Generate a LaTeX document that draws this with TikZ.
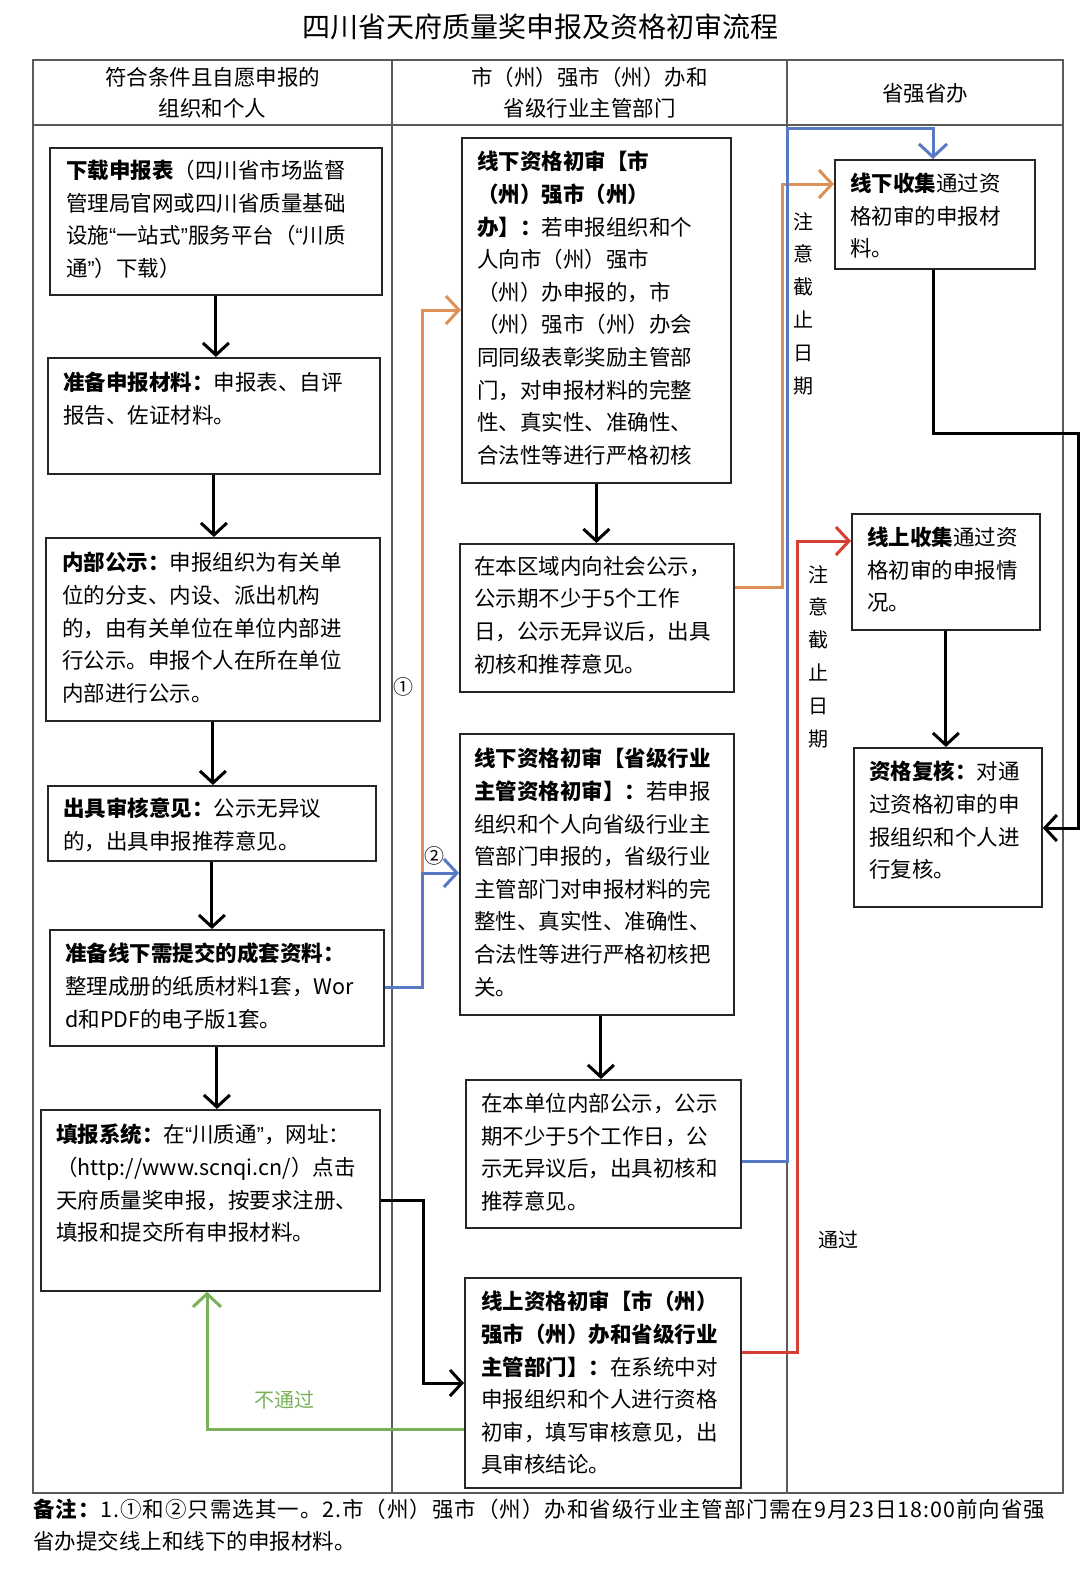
\documentclass[tikz,border=0pt]{standalone}
\usepackage{fontspec}
\setmainfont{Noto Sans CJK SC}
\newfontfamily\qf{Liberation Sans}
\usetikzlibrary{arrows.meta}
\definecolor{cor}{RGB}{222,145,86}
\definecolor{cbl}{RGB}{88,122,196}
\definecolor{cre}{RGB}{214,64,52}
\definecolor{cgr}{RGB}{122,176,88}
\definecolor{ctb}{RGB}{90,90,90}
\newcommand\myLq{{\qf “}}
\newcommand\myRq{{\qf ”}}
\begin{document}
\begin{tikzpicture}[x=1pt,y=-1pt,
  box/.style={draw=black!85, line width=1.8pt, rectangle, inner sep=0pt, anchor=north west},
  txt/.style={anchor=north west, inner sep=0pt, align=left, font=\fontsize{21.5pt}{32.6pt}\selectfont},
  hdr/.style={inner sep=0pt, align=center, font=\fontsize{21.5pt}{31pt}\selectfont},
  lbl/.style={inner sep=0pt, align=center, font=\fontsize{20pt}{32.8pt}\selectfont},
  arr/.style={draw=black, line width=3pt, -{Straight Barb[length=12pt,width=26pt]}},
  orarr/.style={draw=cor, line width=3pt, -{Straight Barb[length=13pt,width=28pt]}},
  blarr/.style={draw=cbl, line width=3pt, -{Straight Barb[length=13pt,width=28pt]}},
  rearr/.style={draw=cre, line width=3pt, -{Straight Barb[length=13pt,width=28pt]}},
  grarr/.style={draw=cgr, line width=3pt, -{Straight Barb[length=13pt,width=28pt]}},
  tbl/.style={draw=ctb, line width=1.3pt}
]
\useasboundingbox (0,0) rectangle (1080,1569);
\fill[white] (0,0) rectangle (1080,1569);

% title
\node[inner sep=0pt, font=\fontsize{28pt}{30pt}\selectfont] (title) at (540,27) {四川省天府质量奖申报及资格初审流程};

% table
\draw[tbl] (33,60) rectangle (1063,1493);
\draw[tbl] (33,125) -- (1063,125);
\draw[tbl] (392,60) -- (392,1493);
\draw[tbl] (787,60) -- (787,1493);
\node[hdr] (h1) at (212.5,92.5) {符合条件且自愿申报的\\组织和个人};
\node[hdr] (h2) at (589.5,92.5) {市（州）强市（州）办和\\省级行业主管部门};
\node[hdr] (h3) at (925,93) {省强省办};

% left column boxes
\node[box, minimum width=332, minimum height=147] (b1) at (49,147) {};
\node[box, minimum width=332, minimum height=116] (b2) at (47,357) {};
\node[box, minimum width=334, minimum height=183] (b3) at (45,537) {};
\node[box, minimum width=328, minimum height=75] (b4) at (47,785) {};
\node[box, minimum width=334, minimum height=116] (b5) at (49,929) {};
\node[box, minimum width=339, minimum height=181] (b6) at (40,1109) {};

\node[txt] (t1) at (66,160) {\textbf{下载申报表}（四川省市场监督\\管理局官网或四川省质量基础\\设施\myLq 一站式\myRq 服务平台（\myLq 川质\\通\myRq ）下载）};
\node[txt] (t2) at (63,372) {\textbf{准备申报材料：}申报表、自评\\报告、佐证材料。};
\node[txt] (t3) at (62,552) {\textbf{内部公示：}申报组织为有关单\\位的分支、内设、派出机构\\的，由有关单位在单位内部进\\行公示。申报个人在所在单位\\内部进行公示。};
\node[txt] (t4) at (63,798) {\textbf{出具审核意见：}公示无异议\\的，出具申报推荐意见。};
\node[txt] (t5) at (65,943) {\textbf{准备线下需提交的成套资料：}\\整理成册的纸质材料1套，Wor\\d和PDF的电子版1套。};
\node[txt] (t6) at (56,1124) {\textbf{填报系统：}在\myLq 川质通\myRq ，网址：\\（http://www.scnqi.cn/）点击\\天府质量奖申报，按要求注册、\\填报和提交所有申报材料。};

% middle column boxes
\node[box, minimum width=269, minimum height=345] (A) at (461,137) {};
\node[box, minimum width=274, minimum height=148] (B) at (459,543) {};
\node[box, minimum width=274, minimum height=281] (C) at (459,733) {};
\node[box, minimum width=275, minimum height=148] (D) at (465,1079) {};
\node[box, minimum width=276, minimum height=210] (E) at (464,1277) {};

\node[txt] (tA) at (477,151) {\textbf{线下资格初审【市}\\\textbf{（州）强市（州）}\\\textbf{办】：}若申报组织和个\\人向市（州）强市\\（州）办申报的，市\\（州）强市（州）办会\\同同级表彰奖励主管部\\门，对申报材料的完整\\性、真实性、准确性、\\合法性等进行严格初核};
\node[txt] (tB) at (474,556) {在本区域内向社会公示，\\公示期不少于5个工作\\日，公示无异议后，出具\\初核和推荐意见。};
\node[txt] (tC) at (474,748) {\textbf{线下资格初审【省级行业}\\\textbf{主管资格初审】：}若申报\\组织和个人向省级行业主\\管部门申报的，省级行业\\主管部门对申报材料的完\\整性、真实性、准确性、\\合法性等进行严格初核把\\关。};
\node[txt] (tD) at (481,1093) {在本单位内部公示，公示\\期不少于5个工作日，公\\示无异议后，出具初核和\\推荐意见。};
\node[txt] (tE) at (481,1291) {\textbf{线上资格初审【市（州）}\\\textbf{强市（州）办和省级行业}\\\textbf{主管部门】：}在系统中对\\申报组织和个人进行资格\\初审，填写审核意见，出\\具审核结论。};

% right column boxes
\node[box, minimum width=200, minimum height=109] (R1) at (834,159) {};
\node[box, minimum width=188, minimum height=116] (R2) at (851,513) {};
\node[box, minimum width=188, minimum height=159] (R3) at (853,747) {};
\node[txt] (tR1) at (850,173) {\textbf{线下收集}通过资\\格初审的申报材\\料。};
\node[txt] (tR2) at (867,527) {\textbf{线上收集}通过资\\格初审的申报情\\况。};
\node[txt] (tR3) at (869,761) {\textbf{资格复核：}对通\\过资格初审的申\\报组织和个人进\\行复核。};

% helper coordinates
\coordinate (k1) at (1078,433);
\coordinate (k2) at (1078,828);
\coordinate (m1) at (423,1200);
\coordinate (m2) at (423,1383);
\coordinate (q1) at (422,987);
\coordinate (q2) at (422,873);
\coordinate (q3) at (422,310);
\coordinate (o1) at (782,587);
\coordinate (o2) at (782,184);
\coordinate (p1) at (787,1161);
\coordinate (p2) at (787,128);
\coordinate (p3) at (933,128);
\coordinate (r1) at (797,1352);
\coordinate (r2) at (797,541);
\coordinate (g1) at (207,1429);

% black connectors
\draw[arr] (b1.south) -- (b1.south |- b2.north);
\draw[arr] (b2.south) -- (b2.south |- b3.north);
\draw[arr] (b3.south) -- (b3.south |- b4.north);
\draw[arr] (b4.south) -- (b4.south |- b5.north);
\draw[arr] (b5.south) -- (b5.south |- b6.north);
\draw[arr] (A.south) -- (A.south |- B.north);
\draw[arr] ([xshift=4pt]C.south) -- ([xshift=4pt]C.south |- D.north);
\draw[arr] (R2.south) -- (R2.south |- R3.north);
\draw[arr] (R1.south -| p3) -- (p3 |- k1) -- (k1) -- (k2) -- (R3.east |- k2);
\draw[arr] (b6.east |- m1) -- (m1) -- (m2) -- (E.west |- m2);

% coloured connectors
\draw[orarr] (q2) -- (q3) -- (A.west |- q3);
\draw[blarr] (b5.east |- q1) -- (q1) -- (q2) -- (C.west |- q2);
\draw[orarr] (B.east |- o1) -- (o1) -- (o2) -- (R1.west |- o2);
\draw[blarr] (D.east |- p1) -- (p1) -- (p2) -- (p3) -- (R1.north -| p3);
\draw[rearr] (E.east |- r1) -- (r1) -- (r2) -- (R2.west |- r2);
\draw[grarr] (E.west |- g1) -- (g1) -- (g1 |- b6.south);

% labels
\node[lbl, anchor=north] (n1) at (803,212) {注\\意\\截\\止\\日\\期};
\node[lbl, anchor=north] (n2) at (818,565) {注\\意\\截\\止\\日\\期};
\node[lbl] (pass) at (838,1240) {通过};
\node[lbl, text=cgr] (fail) at (284,1400) {不通过};
\node[lbl] (c1) at (403,687) {①};
\node[lbl] (c2) at (434,856) {②};

% footnote
\node[txt, font=\fontsize{21.5pt}{32pt}\selectfont] (note) at (33,1499) {{\addfontfeatures{LetterSpace=4.5}\textbf{备注：}1.①和②只需选其一。2.市（州）强市（州）办和省级行业主管部门需在9月23日18:00前向省强}\\省办提交线上和线下的申报材料。};
\end{tikzpicture}
\end{document}
